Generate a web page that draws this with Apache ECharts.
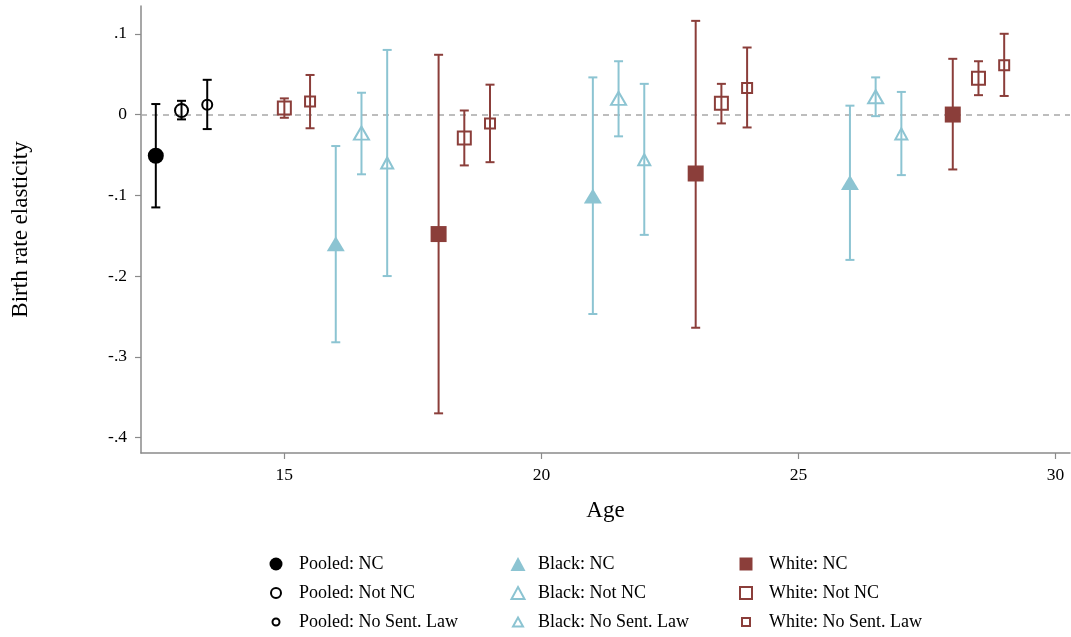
<!DOCTYPE html>
<html>
<head>
<meta charset="utf-8">
<script src="https://cdn.jsdelivr.net/npm/echarts@6/dist/echarts.min.js"></script>
<style>html,body{margin:0;padding:0;background:#fff}#c{width:1071px;height:637px}</style>
</head>
<body>
<div id="c"></div>
<script>
// ---- data ----
const xTicks = [15, 20, 25, 30];
const yTicks = [-0.4, -0.3, -0.2, -0.1, 0, 0.1];
const yTickLabels = ['-.4', '-.3', '-.2', '-.1', '0', '.1'];

const pooledNC_age = [12.5];
const pooledNC_est = [-0.051];
const pooledNC_lo  = [-0.115];
const pooledNC_hi  = [0.013];

const pooledNot_age = [13];
const pooledNot_est = [0.005];
const pooledNot_lo  = [-0.006];
const pooledNot_hi  = [0.017];

const pooledNoLaw_age = [13.5];
const pooledNoLaw_est = [0.012];
const pooledNoLaw_lo  = [-0.018];
const pooledNoLaw_hi  = [0.043];

const blackNC_age = [16, 21, 26];
const blackNC_est = [-0.160, -0.101, -0.084];
const blackNC_lo  = [-0.282, -0.247, -0.180];
const blackNC_hi  = [-0.039, 0.046, 0.011];

const blackNot_age = [16.5, 21.5, 26.5];
const blackNot_est = [-0.023, 0.020, 0.022];
const blackNot_lo  = [-0.074, -0.027, -0.002];
const blackNot_hi  = [0.027, 0.066, 0.046];

const blackNoLaw_age = [17, 22, 27];
const blackNoLaw_est = [-0.060, -0.056, -0.024];
const blackNoLaw_lo  = [-0.200, -0.149, -0.075];
const blackNoLaw_hi  = [0.080, 0.038, 0.028];

const whiteNC_age = [18, 23, 28];
const whiteNC_est = [-0.148, -0.073, 0.000];
const whiteNC_lo  = [-0.370, -0.264, -0.068];
const whiteNC_hi  = [0.074, 0.116, 0.069];

const whiteNot_age = [15, 18.5, 23.5, 28.5];
const whiteNot_est = [0.008, -0.029, 0.014, 0.045];
const whiteNot_lo  = [-0.004, -0.063, -0.011, 0.024];
const whiteNot_hi  = [0.020, 0.005, 0.038, 0.066];

const whiteNoLaw_age = [15.5, 19, 24, 29];
const whiteNoLaw_est = [0.016, -0.011, 0.033, 0.061];
const whiteNoLaw_lo  = [-0.017, -0.059, -0.016, 0.023];
const whiteNoLaw_hi  = [0.049, 0.037, 0.083, 0.100];

// ---- styling ----
const BLACK = '#000000', BLUE = '#8cc4d2', RED = '#8b3e3a';
const FONT = '"Liberation Serif", "Times New Roman", serif';

const groups = [
  {name:'Pooled: NC', age:pooledNC_age, est:pooledNC_est, lo:pooledNC_lo, hi:pooledNC_hi, color:BLACK, symbol:'circle', size:16, hollow:false, lsize:[13,13], col:0, row:0},
  {name:'Pooled: Not NC', age:pooledNot_age, est:pooledNot_est, lo:pooledNot_lo, hi:pooledNot_hi, color:BLACK, symbol:'circle', size:13, hollow:true, lsize:[10,10], col:0, row:1},
  {name:'Pooled: No Sent. Law', age:pooledNoLaw_age, est:pooledNoLaw_est, lo:pooledNoLaw_lo, hi:pooledNoLaw_hi, color:BLACK, symbol:'circle', size:10, hollow:true, lsize:[7,7], col:0, row:2},
  {name:'Black: NC', age:blackNC_age, est:blackNC_est, lo:blackNC_lo, hi:blackNC_hi, color:BLUE, symbol:'triangle', size:[18,15], hollow:false, lsize:[15,14], col:1, row:0},
  {name:'Black: Not NC', age:blackNot_age, est:blackNot_est, lo:blackNot_lo, hi:blackNot_hi, color:BLUE, symbol:'triangle', size:[15,13], hollow:true, lsize:[13,12], col:1, row:1},
  {name:'Black: No Sent. Law', age:blackNoLaw_age, est:blackNoLaw_est, lo:blackNoLaw_lo, hi:blackNoLaw_hi, color:BLUE, symbol:'triangle', size:[12,11], hollow:true, lsize:[10,9], col:1, row:2},
  {name:'White: NC', age:whiteNC_age, est:whiteNC_est, lo:whiteNC_lo, hi:whiteNC_hi, color:RED, symbol:'rect', size:16, hollow:false, lsize:[13,13], col:2, row:0},
  {name:'White: Not NC', age:whiteNot_age, est:whiteNot_est, lo:whiteNot_lo, hi:whiteNot_hi, color:RED, symbol:'rect', size:13, hollow:true, lsize:[12,12], col:2, row:1},
  {name:'White: No Sent. Law', age:whiteNoLaw_age, est:whiteNoLaw_est, lo:whiteNoLaw_lo, hi:whiteNoLaw_hi, color:RED, symbol:'rect', size:10, hollow:true, lsize:[8,8], col:2, row:2}
];

const colIconX = [276, 518, 746];
const colTextX = [299, 538, 769];
const rowY = [563, 592, 621];

const series = [];
const legends = [];

groups.forEach((g, gi) => {
  const style = g.hollow
    ? {color:'none', borderColor:g.color, borderWidth:2, opacity:1}
    : {color:g.color, borderWidth:0, opacity:1};
  // error bars
  series.push({
    type:'custom',
    name:'ci_' + gi,
    z: 2,
    silent:true,
    data: g.age.map((a, i) => [a, g.lo[i], g.hi[i]]),
    encode:{x:0, y:[1,2]},
    renderItem: function(params, api){
      const x = api.value(0), lo = api.value(1), hi = api.value(2);
      const p1 = api.coord([x, lo]), p2 = api.coord([x, hi]);
      const hw = 4.5;
      const st = {stroke:g.color, lineWidth:2, fill:null};
      return {type:'group', children:[
        {type:'line', shape:{x1:p1[0], y1:p1[1], x2:p2[0], y2:p2[1]}, style:st},
        {type:'line', shape:{x1:p1[0]-hw, y1:p1[1], x2:p1[0]+hw, y2:p1[1]}, style:st},
        {type:'line', shape:{x1:p2[0]-hw, y1:p2[1], x2:p2[0]+hw, y2:p2[1]}, style:st}
      ]};
    }
  });
  const sc = {
    type:'scatter',
    name:g.name,
    z: 3,
    symbol:g.symbol,
    symbolSize:g.size,
    itemStyle:style,
    emphasis:{disabled:true},
    data: g.age.map((a, i) => [a, g.est[i]])
  };
  if (gi === 0) {
    sc.markLine = {
      silent:true, symbol:'none', z:1,
      label:{show:false},
      lineStyle:{type:[6,5], color:'#a8a8a8', width:1.5},
      data:[{yAxis:0}]
    };
  }
  series.push(sc);
  const w = g.lsize[0], h = g.lsize[1];
  const cx = colIconX[g.col];
  const shift = g.hollow ? -2.5 : 0;
  legends.push({
    left: cx - w/2 + shift,
    top: rowY[g.row] - 10,
    padding: 0,
    itemWidth: w,
    itemHeight: h,
    selectedMode:false,
    data:[{name:g.name, icon:g.symbol, itemStyle:style}],
    textStyle:{fontFamily:FONT, fontSize:18, color:'#000', padding:[0,0,0, colTextX[g.col] - (cx + w/2 + 5)], lineHeight:22}
  });
});

const chart = echarts.init(document.getElementById('c'), null, {renderer:'canvas'});
chart.setOption({
  animation:false,
  backgroundColor:'#fff',
  grid:{left:141, right:1, top:6, bottom:184, containLabel:false},
  xAxis:{
    type:'value', min:12.212, max:30.28,
    name:'Age', nameLocation:'middle', nameGap:46,
    nameTextStyle:{fontFamily:FONT, fontSize:23, color:'#000'},
    axisLine:{show:true, onZero:false, lineStyle:{color:'#8a8a8a', width:1.5}},
    axisTick:{show:true, length:6, customValues:xTicks, lineStyle:{color:'#8a8a8a', width:1.2}},
    axisLabel:{customValues:xTicks, fontFamily:FONT, fontSize:17.5, color:'#000', margin:13},
    splitLine:{show:false}
  },
  yAxis:{
    type:'value', min:-0.4191, max:0.1344,
    name:'Birth rate elasticity', nameLocation:'middle', nameGap:109, nameRotate:90,
    nameTextStyle:{fontFamily:FONT, fontSize:23, color:'#000'},
    axisLine:{show:true, onZero:false, lineStyle:{color:'#8a8a8a', width:1.5}},
    axisTick:{show:true, length:6, customValues:yTicks, lineStyle:{color:'#8a8a8a', width:1.2}},
    axisLabel:{customValues:yTicks, fontFamily:FONT, fontSize:17.5, color:'#000', margin:14,
      formatter:function(v){ const i = yTicks.findIndex(t => Math.abs(t - v) < 1e-6); return i >= 0 ? yTickLabels[i] : ''; }},
    splitLine:{show:false}
  },
  legend: legends,
  series: series
});
</script>
</body>
</html>
